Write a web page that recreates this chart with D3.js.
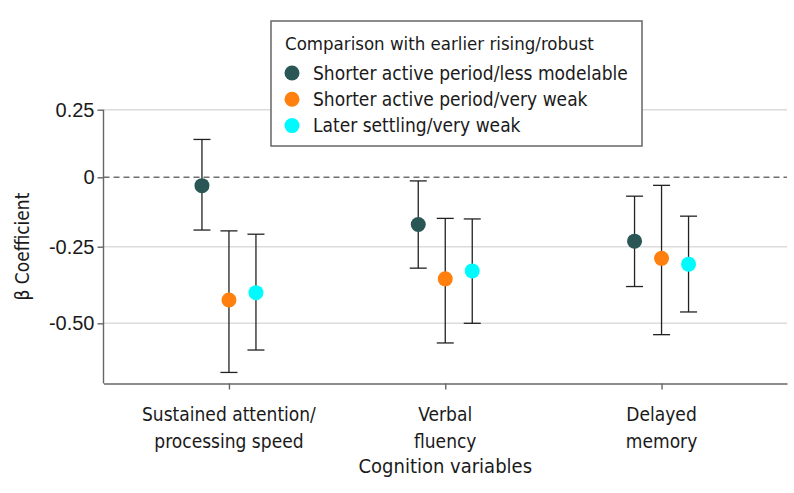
<!DOCTYPE html>
<html>
<head>
<meta charset="utf-8">
<script src="https://cdn.jsdelivr.net/npm/d3@7"></script>
<style>
  body { margin: 0; background: #fff; }
  svg { display: block; font-family: "DejaVu Sans Condensed", "DejaVu Sans", sans-serif; }
</style>
</head>
<body>
<svg id="chart" width="794" height="493"></svg>
<script>
// categories and labels
const categories = ["Sustained attention/processing speed", "Verbal fluency", "Delayed memory"]
const categoryLines = [["Sustained attention/", "processing speed"], ["Verbal", "fluency"], ["Delayed", "memory"]]
const seriesNames = ["Shorter active period/less modelable", "Shorter active period/very weak", "Later settling/very weak"]
const seriesColors = ["#2b5656", "#ff800e", "#00fbff"]

// beta estimates and 95% CI, one array per series
const lessModelable = [-0.03, -0.17, -0.23]
const lessModelableLow = [-0.19, -0.32, -0.38]
const lessModelableHigh = [0.14, -0.013, -0.068]

const shortWeak = [-0.424, -0.355, -0.288]
const shortWeakLow = [-0.66, -0.564, -0.537]
const shortWeakHigh = [-0.193, -0.148, -0.029]

const laterWeak = [-0.40, -0.329, -0.307]
const laterWeakLow = [-0.587, -0.50, -0.463]
const laterWeakHigh = [-0.205, -0.15, -0.14]

const yTicks = [0.25, 0, -0.25, -0.5]
const yTickLabels = ["0.25", "0", "-0.25", "-0.50"]

const series = [
    { name: seriesNames[0], color: seriesColors[0], est: lessModelable, lo: lessModelableLow, hi: lessModelableHigh },
    { name: seriesNames[1], color: seriesColors[1], est: shortWeak, lo: shortWeakLow, hi: shortWeakHigh },
    { name: seriesNames[2], color: seriesColors[2], est: laterWeak, lo: laterWeakLow, hi: laterWeakHigh }
]

const dims = { left: 103.5, right: 787, top: 109.7, bottom: 383.5 }
const svg = d3.select("#chart")

const x = d3.scalePoint().domain(categories).range([dims.left, dims.right]).padding(0.58)
// the printed axis is not evenly spaced, so the scale is piecewise
const y = d3.scaleLinear()
    .domain([0.25, 0, -0.25, -0.5, -0.696])
    .range([dims.top, 177.3, 246.7, 323.3, dims.bottom])
const offset = d3.scalePoint().domain(d3.range(series.length)).range([-27, 27])

// gridlines
svg.append("g")
    .selectAll("line")
    .data(yTicks.filter(d => d !== 0))
    .join("line")
    .attr("x1", dims.left).attr("x2", dims.right)
    .attr("y1", d => y(d)).attr("y2", d => y(d))
    .attr("stroke", "#dcdcdc").attr("stroke-width", 1.6)

svg.append("line")
    .attr("x1", dims.left).attr("x2", dims.right)
    .attr("y1", y(0)).attr("y2", y(0))
    .attr("stroke", "#707070").attr("stroke-width", 1.4)
    .attr("stroke-dasharray", "6,4")

// axes
const yAxis = svg.append("g")
    .attr("transform", `translate(${dims.left},0)`)
    .call(d3.axisLeft(y).tickValues(yTicks).tickFormat((d, i) => yTickLabels[i]).tickSize(6).tickSizeOuter(0))
yAxis.select(".domain").attr("d", `M0,${dims.top}V${dims.bottom}`)
const xAxis = svg.append("g")
    .attr("transform", `translate(0,${dims.bottom})`)
    .call(d3.axisBottom(x).tickSize(6).tickSizeOuter(0).tickFormat(""))

svg.selectAll(".domain, .tick line").attr("stroke", "#666").attr("stroke-width", 1.4)
yAxis.selectAll(".tick text")
    .attr("font-size", 20).attr("fill", "#1a1a1a").attr("x", -9)
    .attr("font-family", "inherit")

// category labels
const catLabels = svg.append("g")
    .selectAll("text")
    .data(categories)
    .join("text")
    .attr("text-anchor", "middle")
    .attr("font-size", 19)
    .attr("fill", "#1a1a1a")
catLabels.selectAll("tspan")
    .data((d, i) => categoryLines[i].map(t => ({ t, c: d })))
    .join("tspan")
    .attr("x", d => x(d.c))
    .attr("y", (d, i) => 421 + i * 27)
    .text(d => d.t)

svg.append("text")
    .attr("x", (dims.left + dims.right) / 2)
    .attr("y", 473)
    .attr("text-anchor", "middle")
    .attr("font-size", 20)
    .attr("fill", "#1a1a1a")
    .text("Cognition variables")

svg.append("text")
    .attr("transform", `translate(29,${(y(0.25) + y(-0.696)) / 2}) rotate(-90)`)
    .attr("text-anchor", "middle")
    .attr("font-size", 19)
    .attr("fill", "#1a1a1a")
    .text("β Coefficient")

// error bars and points
series.forEach((s, si) => {
    const g = svg.append("g")
    const rows = categories.map((c, i) => ({ c, est: s.est[i], lo: s.lo[i], hi: s.hi[i] }))
    const cx = d => x(d.c) + offset(si)
    g.selectAll("line.bar").data(rows).join("line").attr("class", "bar")
        .attr("x1", cx).attr("x2", cx)
        .attr("y1", d => y(d.lo)).attr("y2", d => y(d.hi))
        .attr("stroke", "#222").attr("stroke-width", 1.3)
    g.selectAll("line.cap-lo").data(rows).join("line").attr("class", "cap-lo")
        .attr("x1", d => cx(d) - 8.5).attr("x2", d => cx(d) + 8.5)
        .attr("y1", d => y(d.lo)).attr("y2", d => y(d.lo))
        .attr("stroke", "#222").attr("stroke-width", 1.3)
    g.selectAll("line.cap-hi").data(rows).join("line").attr("class", "cap-hi")
        .attr("x1", d => cx(d) - 8.5).attr("x2", d => cx(d) + 8.5)
        .attr("y1", d => y(d.hi)).attr("y2", d => y(d.hi))
        .attr("stroke", "#222").attr("stroke-width", 1.3)
    g.selectAll("circle").data(rows).join("circle")
        .attr("cx", cx).attr("cy", d => y(d.est))
        .attr("r", 7.5)
        .attr("fill", s.color)
})

// legend
const legend = svg.append("g").attr("transform", "translate(271,21)")
legend.append("rect")
    .attr("width", 371).attr("height", 125)
    .attr("fill", "#fff").attr("stroke", "#666").attr("stroke-width", 1.5)
legend.append("text")
    .attr("x", 14).attr("y", 29)
    .attr("font-size", 18.5).attr("fill", "#1a1a1a")
    .text("Comparison with earlier rising/robust")
const items = legend.selectAll("g.item")
    .data(series)
    .join("g").attr("class", "item")
    .attr("transform", (d, i) => `translate(0,${52 + i * 26.3})`)
items.append("circle").attr("cx", 21).attr("cy", 0).attr("r", 7.5).attr("fill", d => d.color)
items.append("text").attr("x", 42).attr("y", 6.5)
    .attr("font-size", 19).attr("fill", "#1a1a1a")
    .text(d => d.name)
</script>
</body>
</html>
